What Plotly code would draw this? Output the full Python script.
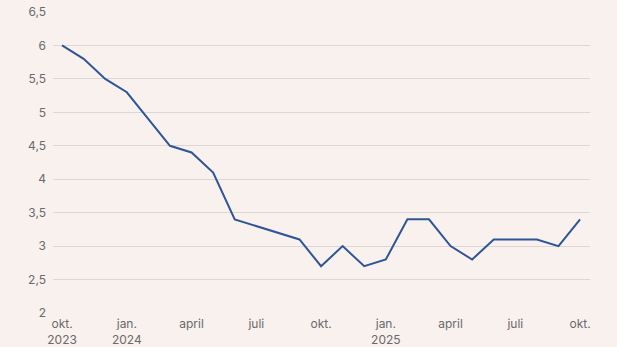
import plotly.graph_objects as go

months = ["2023-10", "2023-11", "2023-12", "2024-01", "2024-02", "2024-03", "2024-04",
          "2024-05", "2024-06", "2024-07", "2024-08", "2024-09", "2024-10", "2024-11",
          "2024-12", "2025-01", "2025-02", "2025-03", "2025-04", "2025-05", "2025-06",
          "2025-07", "2025-08", "2025-09", "2025-10"]
values = [6.0, 5.8, 5.5, 5.3, 4.9, 4.5, 4.4, 4.1, 3.4, 3.3, 3.2, 3.1, 2.7, 3.0,
          2.7, 2.8, 3.4, 3.4, 3.0, 2.8, 3.1, 3.1, 3.1, 3.0, 3.4]
x_tick_idx = [0, 3, 6, 9, 12, 15, 18, 21, 24]
x_tick_labels = ["okt.<br>2023", "jan.<br>2024", "april", "juli", "okt.",
                 "jan.<br>2025", "april", "juli", "okt."]
y_ticks = [2, 2.5, 3, 3.5, 4, 4.5, 5, 5.5, 6, 6.5]
y_tick_labels = ["2", "2,5", "3", "3,5", "4", "4,5", "5", "5,5", "6", "6,5"]

x_idx = list(range(len(months)))

fig = go.Figure(go.Scatter(
    x=x_idx, y=values, mode="lines",
    line=dict(color="#2f5596", width=2),
    text=months, hoverinfo="text+y",
))

bg = "#f9f1ee"
fig.update_layout(
    width=617, height=347,
    margin=dict(l=53, r=27, t=12, b=34, autoexpand=False),
    paper_bgcolor=bg, plot_bgcolor=bg,
    showlegend=False,
    font=dict(family="Inter, Roboto, sans-serif", size=12, color="#6a6a6a"),
    xaxis=dict(
        range=[-0.42, 24.46], tickmode="array", tickvals=x_tick_idx,
        ticktext=x_tick_labels, showgrid=False, zeroline=False,
        showline=False, ticks="", automargin=False, ticklabelstandoff=2,
        tickfont=dict(size=12, color="#6a6a6a"),
    ),
    yaxis=dict(
        range=[2, 6.5], tickmode="array", tickvals=y_ticks, ticktext=y_tick_labels,
        showgrid=True, gridcolor="#dcd6d4", gridwidth=1, zeroline=False,
        showline=False, ticks="", ticklabelstandoff=6, automargin=False,
        tickfont=dict(size=12, color="#6a6a6a"),
    ),
)

fig.write_html("out.html")
